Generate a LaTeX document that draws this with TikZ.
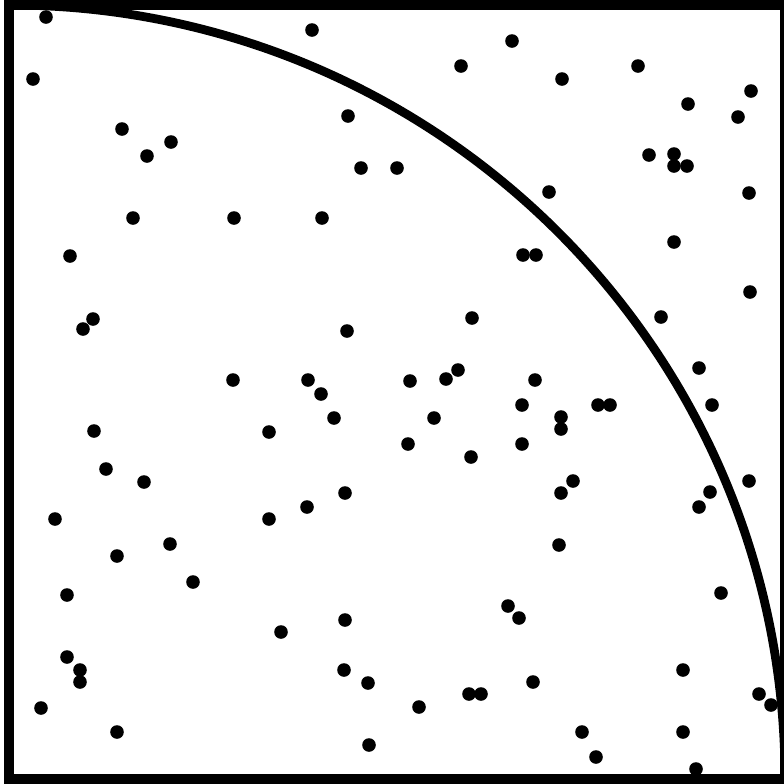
\documentclass[tikz,border=0pt]{standalone}
\usepackage{tikz}

\begin{document}
\begin{tikzpicture}[x=0.1mm,y=-0.1mm,
  sample/.style={fill=black},
  frame/.style={line width=2.8pt},
  quarter/.style={line width=2.5pt}]
  \useasboundingbox (0,0) rectangle (784,784);
  \coordinate (O) at (9,779);
  \coordinate (T) at (9,5);
  \coordinate (R) at (785,779);
  \draw[frame] (T) rectangle (785,779);
  \draw[quarter] (T) arc[start angle=-90, end angle=0, x radius=776, y radius=774];
  % random points
  \foreach \x/\y in {46/17, 33/79, 122/129, 171/142, 147/156, 133/218, 234/218, 70/256,
    312/30, 512/41, 461/66, 348/116, 361/168, 397/168, 322/218, 523/255,
    562/79, 638/66, 751/91, 688/104, 738/117, 649/155, 674/154, 674/166, 687/166,
    549/192, 749/193, 674/242, 536/255,
    93/319, 83/329, 233/380, 94/431, 106/469, 144/482, 55/519,
    472/318, 347/331, 308/380, 321/394, 410/381, 446/379, 458/370, 334/418, 434/418,
    269/432, 408/444, 471/457, 522/405, 522/444, 345/493, 307/507, 269/519,
    750/292, 661/317, 699/368, 535/380, 598/405, 610/405, 712/405, 561/417, 561/429,
    749/481, 573/481, 561/493, 710/492, 699/507,
    170/544, 117/556, 193/582, 67/595, 67/657, 80/670, 80/682, 41/708, 117/732,
    508/606, 519/618, 345/620, 281/632, 344/670, 368/683, 469/694, 481/694, 419/707, 369/745,
    559/545, 721/593, 683/670, 533/682, 759/694, 771/705, 582/732, 683/732, 596/757, 696/769}
    \fill[sample] (\x,\y) circle[radius=6.8];
\end{tikzpicture}
\end{document}
